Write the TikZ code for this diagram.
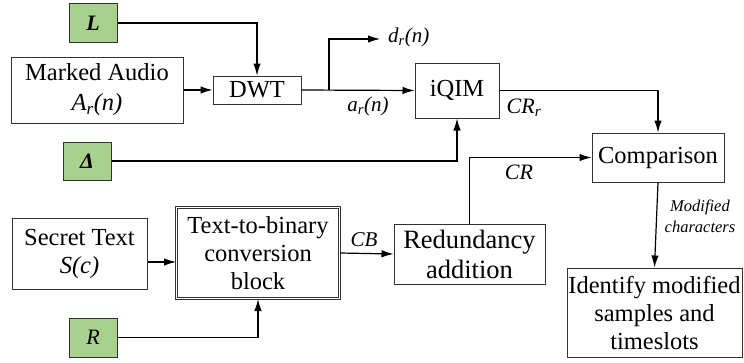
\documentclass[tikz,border=0pt]{standalone}
\usepackage{fontspec}
\setmainfont{Liberation Serif}
\usetikzlibrary{arrows.meta}
\definecolor{keygreen}{RGB}{169,209,142}
\definecolor{boxline}{RGB}{50,50,50}
\begin{document}
\begin{tikzpicture}[x=1pt,y=-1pt,
  blk/.style={draw=boxline,line width=1pt,inner sep=0pt,align=center,
    font=\rmfamily\fontsize{24.5}{28}\selectfont},
  keybox/.style={draw=boxline,line width=1pt,fill=keygreen,inner sep=0pt,
    minimum width=48,minimum height=39,font=\rmfamily\fontsize{22}{24}\selectfont},
  lab/.style={inner sep=0pt,font=\rmfamily\fontsize{21}{24}\selectfont\itshape},
  conn/.style={line width=1.2pt,-{Latex[length=12,width=7.5]}}]
\useasboundingbox (0,0) rectangle (744,362);
% key boxes
\node[keybox] (L) at (93,23) {\textbf{\textit{L}}};
\node[keybox,minimum height=38] (D) at (87,161) {\textbf{\textit{Δ}}};
\node[keybox] (R) at (93,337.5) {\textit{R}};
% blocks
\node[blk,minimum width=172,minimum height=66] (audio) at (97,90) {Marked Audio\\[2pt]\textit{A\textsubscript{r}(n)}};
\node[blk,minimum width=88,minimum height=28] (dwt) at (257,90) {DWT};
\node[blk,minimum width=84,minimum height=55] (iqim) at (457,90.5) {iQIM};
\node[blk,minimum width=132,minimum height=49] (comp) at (658,157.5) {Comparison};
\node[blk,minimum width=135,minimum height=71] (secret) at (79.5,253.5) {Secret Text\\\textit{S(c)}};
\node[blk,double,double distance=1.6pt,minimum width=163,minimum height=91] (t2b) at (258,253) {Text-to-binary\\conversion\\block};
\node[blk,minimum width=151,minimum height=60,font=\rmfamily\fontsize{26.5}{30}\selectfont] (red) at (469.5,254) {Redundancy\\addition};
\node[blk,minimum width=175,minimum height=89] (ident) at (654.5,312.5) {Identify modified\\samples and\\timeslots};
% helper coordinates
\coordinate (br) at (329,90);
\coordinate (dout) at (380,39);
% connectors
\draw[conn] (L.east) -| (dwt.north);
\draw[conn] (audio.east) -- (dwt.west);
\draw[conn] (dwt.east) -- (iqim.west);
\draw[conn] (br) |- (dout);
\draw[conn] (D.east) -| (iqim.south);
\draw[conn] (iqim.east) -| (comp.north);
\draw[conn] (red.north) |- (comp.west);
\draw[conn] ([yshift=-8.5]secret.east) -- ([yshift=-9]t2b.west);
\draw[conn] (R.east) -| (t2b.south);
\draw[conn] (t2b.east) -- (red.west);
\draw[conn] (comp.south) -- (ident.north);
% labels
\node[lab,anchor=west] (dl) at (388,37) {d\textsubscript{r}(n)};
\node[lab] (al) at (368,106) {a\textsubscript{r}(n)};
\node[lab,font=\rmfamily\fontsize{22}{24}\selectfont\itshape] (crr) at (524,108) {CR\textsubscript{r}};
\node[lab,font=\rmfamily\fontsize{22}{24}\selectfont\itshape] (cr) at (519,172) {CR};
\node[lab] (cb) at (364,240) {CB};
\node[lab,align=center,font=\rmfamily\fontsize{16.5}{21}\selectfont\itshape] (mc) at (700,216) {Modified\\characters};
\end{tikzpicture}
\end{document}
